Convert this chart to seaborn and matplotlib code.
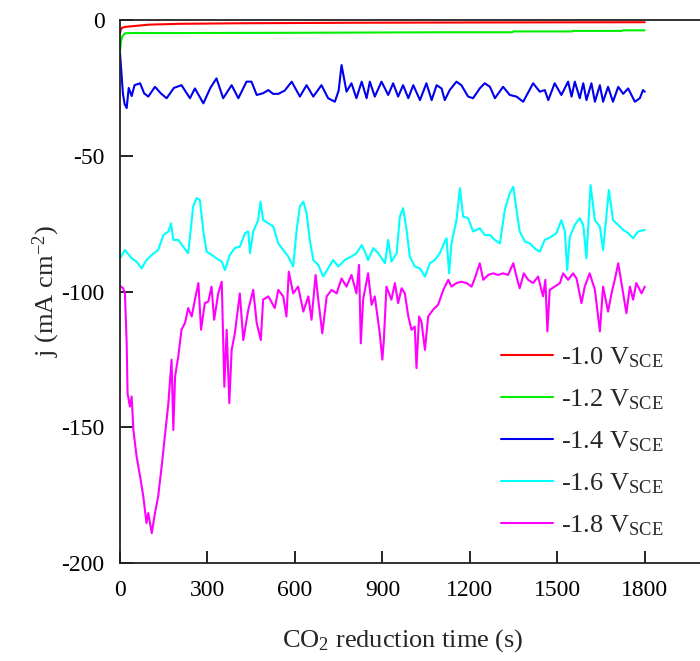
import matplotlib
matplotlib.use("Agg")
import matplotlib.pyplot as plt
from matplotlib.lines import Line2D
import seaborn as sns
import pandas as pd

# ---------------- data ----------------
labels = ["-1.0", "-1.2", "-1.4", "-1.6", "-1.8"]
colors = ["#ff0000", "#00ee00", "#0000ee", "#00ffff", "#ff00ff"]

red_t = [0, 3, 8, 20, 50, 100, 200, 400, 800, 1200, 1800]
red_j = [-5, -3.5, -2.8, -2.5, -2.2, -1.7, -1.4, -1.2, -1.0, -0.9, -0.8]

green_t = [0, 3, 8, 17, 40, 200, 600, 1130, 1345, 1350, 1550, 1555, 1720, 1725, 1800]
green_j = [-11.7, -8, -6, -4.9, -4.8, -4.8, -4.7, -4.5, -4.5, -4.2, -4.2, -4.0, -4.0, -3.8, -3.8]

blue_t = [0, 4, 10, 16, 23, 30, 40, 50, 69, 83,
          97, 120, 140, 160, 185, 211, 240, 257, 286, 310,
          331, 354, 383, 406, 434, 451, 469, 490, 509, 525,
          543, 565, 589, 617, 640, 663, 691, 714, 737, 750,
          760, 777, 794, 811, 829, 846, 857, 874, 897, 920,
          937, 954, 971, 989, 1006, 1029, 1051, 1069, 1086, 1103,
          1114, 1131, 1154, 1171, 1194, 1211, 1234, 1251, 1269, 1286,
          1314, 1337, 1360, 1383, 1417, 1440, 1457, 1469, 1491, 1514,
          1537, 1549, 1560, 1577, 1589, 1600, 1617, 1629, 1646, 1657,
          1674, 1691, 1709, 1726, 1743, 1766, 1783, 1794, 1800]
blue_j = [-12, -18, -27, -31, -32.4, -25, -28, -24, -23.3, -27,
          -28.2, -24.6, -27, -28.8, -25, -24, -28.8, -25.2, -30.7, -25,
          -21.5, -28.8, -24, -28.8, -22.7, -22.7, -27.6, -27, -25.8, -27.2,
          -27.2, -26, -22.7, -28.2, -24, -28.2, -24, -28.8, -30.1, -26,
          -16.6, -26.4, -23.3, -28.8, -22.7, -28.8, -22.7, -28.2, -22.7, -27.6,
          -23.3, -28.2, -24, -28.8, -24, -29.5, -23.3, -29.5, -24, -25.2,
          -29.5, -25.8, -22.7, -24, -28.2, -28.8, -25.2, -23.3, -24.6, -28.8,
          -24.6, -27.6, -28.2, -30.1, -23.3, -26.4, -25.8, -29.5, -23.3, -27.6,
          -22.7, -28.2, -22.7, -28.8, -23.3, -29.5, -23.3, -30.1, -24, -30.1,
          -24.6, -30.1, -24.6, -27.2, -25.2, -30.1, -28.8, -25.8, -26.4]

cyan_t = [0, 17, 40, 57, 74, 91, 109, 131, 149, 166,
          175, 183, 200, 217, 234, 251, 263, 274, 286, 297,
          314, 331, 349, 360, 377, 394, 411, 429, 440, 446,
          457, 474, 482, 491, 509, 526, 543, 560, 577, 594,
          606, 617, 629, 640, 651, 663, 680, 697, 714, 731,
          749, 771, 794, 811, 829, 840, 851, 869, 886, 909,
          920, 931, 949, 960, 971, 983, 994, 1011, 1029, 1046,
          1063, 1080, 1097, 1114, 1120, 1129, 1137, 1154, 1166, 1177,
          1194, 1211, 1234, 1251, 1269, 1286, 1303, 1320, 1337, 1349,
          1360, 1371, 1389, 1406, 1423, 1440, 1457, 1480, 1497, 1514,
          1526, 1534, 1543, 1560, 1577, 1589, 1600, 1614, 1629, 1646,
          1657, 1677, 1691, 1709, 1726, 1743, 1760, 1777, 1800]
cyan_j = [-87.8, -84.7, -87.8, -89, -91.5, -88.4, -86.5, -84.7, -79.2, -77.9,
          -74.9, -81, -81, -83.5, -85.9, -68.7, -65.6, -66.3, -77.9, -85.3,
          -86.5, -87.8, -89, -92.1, -86.5, -84, -83.5, -78.5, -77.9, -85.9,
          -77.9, -73.7, -66.9, -73.7, -74.9, -76.1, -82.3, -84.7, -87.1, -90.8,
          -77.3, -68.7, -66.9, -71.2, -81, -88.4, -90.2, -94.5, -91.5, -88.4,
          -90.8, -88.4, -87.1, -85.9, -82.9, -85.3, -88.4, -84, -85.9, -89.6,
          -81, -89, -85.9, -72.4, -69.3, -77.3, -87.1, -90.8, -91.5, -94.5,
          -89.6, -88.4, -85.9, -81.6, -80.4, -93.3, -82.3, -73.7, -62, -72.4,
          -73, -77.9, -76.7, -79.2, -79.2, -81, -82.3, -69.9, -63.8, -61.4,
          -69.9, -77.9, -81.6, -82.3, -84.2, -85.3, -81, -79.8, -78.5, -73.7,
          -77.9, -92.1, -79.8, -75.5, -73, -75.5, -87.8, -60.8, -73.7, -76.1,
          -84.7, -62.6, -73.7, -75.5, -77.3, -78.5, -80.4, -77.9, -77.3]

mag_t = [0, 11, 17, 23, 26, 34, 40, 46, 57, 69,
         80, 91, 97, 109, 120, 131, 143, 154, 166, 177,
         183, 189, 200, 211, 223, 234, 246, 257, 269, 278,
         291, 303, 314, 323, 337, 349, 358, 366, 375, 383,
         394, 411, 423, 440, 457, 469, 483, 491, 509, 531,
         543, 560, 571, 579, 594, 611, 629, 646, 657, 671,
         680, 694, 709, 726, 743, 760, 777, 794, 811, 820,
         826, 834, 851, 863, 874, 891, 900, 905, 914, 931,
         943, 954, 966, 977, 989, 1000, 1011, 1017, 1026, 1034,
         1046, 1057, 1074, 1091, 1109, 1126, 1137, 1154, 1171, 1189,
         1206, 1217, 1234, 1246, 1263, 1280, 1297, 1314, 1331, 1349,
         1360, 1371, 1385, 1400, 1417, 1434, 1451, 1459, 1466, 1474,
         1491, 1509, 1520, 1537, 1554, 1566, 1583, 1594, 1611, 1629,
         1646, 1657, 1674, 1686, 1697, 1709, 1720, 1737, 1749, 1760,
         1771, 1789, 1800]
mag_j = [-98, -98.8, -100.7, -119.1, -137.5, -142.4, -138.7, -151, -160.8, -168.1,
         -175.5, -185.3, -181.6, -189, -181.6, -175.5, -164.4, -153.4, -141.1, -125.1,
         -151, -131.3, -123.9, -114.1, -111.6, -106.1, -109.2, -103, -96.9, -114.1,
         -104.3, -103.7, -98.2, -110.4, -100.7, -96.4, -135.1, -114.1, -141.1, -121.5,
         -115.4, -100.7, -117.9, -106.7, -99.4, -111.6, -117.9, -103, -101.8, -106.1,
         -99.4, -101.8, -109.2, -92.7, -100.7, -98.2, -107.4, -101.8, -110.4, -93.9,
         -103, -115.4, -101.8, -99.4, -100.7, -95.2, -98.2, -93.9, -100.7, -90.2,
         -119.1, -103, -93.3, -104.9, -101.8, -115.4, -125.1, -117.9, -98.2, -103,
         -96.9, -104.3, -98.8, -100.7, -109.2, -114.1, -112.9, -128.2, -109.2, -111.1,
         -121.5, -109.2, -106.7, -104.9, -99.4, -95.7, -98.2, -96.9, -96.4, -96.9,
         -98.2, -95.2, -89.6, -95.7, -93.9, -93.3, -93.9, -93.3, -93.9, -89.6,
         -94.5, -98.8, -93.3, -95.7, -96.9, -94.5, -101.8, -95.7, -114.7, -99.4,
         -98.2, -96.9, -93.3, -95.7, -93.3, -95.2, -104.3, -98.2, -93.3, -99.4,
         -114.7, -98.2, -107.4, -100.7, -95.7, -89.6, -96.9, -108, -98.2, -103,
         -96.9, -100.7, -98.2]

x_ticks = [0, 300, 600, 900, 1200, 1500, 1800]
x_ticklabels = ["0", "300", "600", "900", "1200", "1500", "1800"]
y_ticks = [0, -50, -100, -150, -200]
y_ticklabels = ["0", "-50", "-100", "-150", "-200"]

# ---------------- style ----------------
sns.set_style("ticks")
plt.rcParams["font.family"] = ["Liberation Serif", "DejaVu Serif"]
plt.rcParams["mathtext.fontset"] = "custom"
plt.rcParams["mathtext.rm"] = "Liberation Serif"
plt.rcParams["mathtext.it"] = "Liberation Serif:italic"
plt.rcParams["axes.unicode_minus"] = False

series = [(red_t, red_j), (green_t, green_j), (blue_t, blue_j),
          (cyan_t, cyan_j), (mag_t, mag_j)]
frames = []
for lab, (tt, jj) in zip(labels, series):
    frames.append(pd.DataFrame({"t": tt, "j": jj, "series": lab}))
df = pd.concat(frames, ignore_index=True)

fig = plt.figure(figsize=(7.0, 6.61), dpi=100)
ax = fig.add_axes([0.1714, 0.1483, 0.8330, 0.8214])

sns.lineplot(data=df, x="t", y="j", hue="series", hue_order=labels,
             palette=dict(zip(labels, colors)), sort=False, estimator=None,
             legend=False, linewidth=1.5, ax=ax)

ax.set_xlim(0, 2000)
ax.set_ylim(-200, 0)
ax.set_xticks(x_ticks)
ax.set_xticklabels(x_ticklabels)
ax.set_yticks(y_ticks)
ax.set_yticklabels(y_ticklabels)
ax.tick_params(direction="in", length=9, width=1.2, labelsize=17, pad=12,
               colors="black")
ax.tick_params(axis="y", pad=11)
for sp in ax.spines.values():
    sp.set_linewidth(1.3)
    sp.set_color("#222222")

ax.set_xlabel("CO$_2$ reduction time (s)", fontsize=19)
ax.xaxis.set_label_coords(0.485, -0.118)
ax.set_ylabel("j (mA cm$^{-2}$)", fontsize=19)
ax.yaxis.set_label_coords(-0.10, 0.50)

handles = [Line2D([], [], color=c, linewidth=1.5) for c in colors]
leg_labels = [f"{l} V$_{{\\mathrm{{SCE}}}}$" for l in labels]
ax.legend(handles, leg_labels, loc="upper left", bbox_to_anchor=(0.636, 0.42),
          frameon=False, fontsize=19, handlelength=1.95, handletextpad=0.3,
          labelspacing=0.66, borderaxespad=0)

fig.savefig("out.png", dpi=100)
